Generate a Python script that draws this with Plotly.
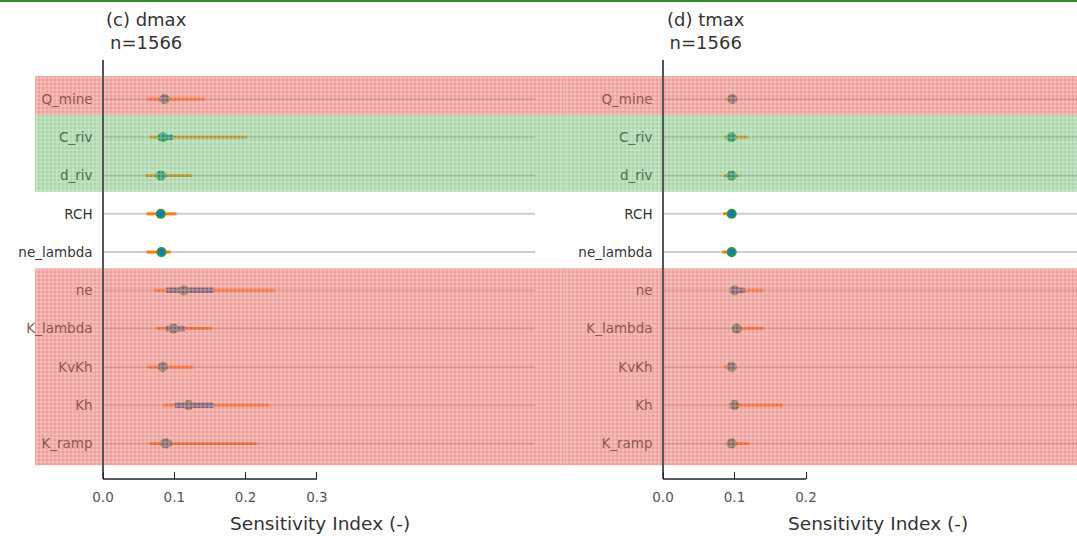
import plotly.graph_objects as go

# Parameters (rows, top to bottom)
params = ["Q_mine", "C_riv", "d_riv", "RCH", "ne_lambda",
          "ne", "K_lambda", "KvKh", "Kh", "K_ramp"]
# Row category: "pump" / "river" / "aquifer" rows are shaded, "recharge" rows are not
param_group = ["pump", "river", "river", "recharge", "recharge",
               "aquifer", "aquifer", "aquifer", "aquifer", "aquifer"]

# (c) dmax sensitivity indices: whisker low/high, quartiles, median
dmax_lo = [0.062, 0.065, 0.059, 0.061, 0.061, 0.072, 0.075, 0.062, 0.084, 0.065]
dmax_q1 = [0.080, 0.077, 0.075, 0.077, 0.078, 0.089, 0.088, 0.078, 0.101, 0.080]
dmax_med = [0.086, 0.084, 0.081, 0.081, 0.082, 0.113, 0.099, 0.084, 0.120, 0.088]
dmax_q3 = [0.093, 0.098, 0.088, 0.086, 0.087, 0.155, 0.115, 0.090, 0.155, 0.097]
dmax_hi = [0.143, 0.202, 0.124, 0.103, 0.095, 0.241, 0.152, 0.127, 0.233, 0.216]

# (d) tmax sensitivity indices
tmax_lo = [0.088, 0.086, 0.085, 0.084, 0.083, 0.096, 0.097, 0.085, 0.096, 0.091]
tmax_q1 = [0.093, 0.092, 0.093, 0.093, 0.093, 0.096, 0.099, 0.093, 0.097, 0.093]
tmax_med = [0.097, 0.096, 0.096, 0.096, 0.096, 0.100, 0.103, 0.096, 0.100, 0.096]
tmax_q3 = [0.099, 0.099, 0.099, 0.098, 0.098, 0.114, 0.108, 0.099, 0.104, 0.099]
tmax_hi = [0.102, 0.119, 0.106, 0.099, 0.099, 0.141, 0.141, 0.103, 0.168, 0.120]

panel_titles = ["(c) dmax<br>n=1566", "(d) tmax<br>n=1566"]
x_ticks = [[0.0, 0.1, 0.2, 0.3], [0.0, 0.1, 0.2]]
x_title = "Sensitivity Index (-)"

# ---------------------------------------------------------------- layout
W, H = 1077, 536
FONT = "DejaVu Sans"
Y_RANGE = [9.93, -1.02]
Y_DOMAIN = [1 - 479 / H, 1 - 60 / H]
X_DOMAINS = [[35 / W, 565 / W], [565 / W, 1.0]]
X_RANGES = [[-0.0954, 0.648], [-0.1371, 0.579]]
GRID_END = [0.606, 0.579]
AXIS_PX = [103, 663]
XTITLE_PX = [320, 878]

BAND_STYLE = {
    "pump": dict(bg="rgba(224,70,60,0.52)", fg="rgba(255,255,255,0.55)"),
    "river": dict(bg="rgba(62,160,62,0.44)", fg="rgba(255,255,255,0.55)"),
    "aquifer": dict(bg="rgba(224,70,60,0.52)", fg="rgba(255,255,255,0.55)"),
}
LABEL_COLOR = {"pump": "#8e5652", "river": "#4f6e4f",
               "recharge": "#333333", "aquifer": "#8e5652"}


def band_extents():
    """Contiguous runs of shaded groups -> (group, y_top, y_bottom)."""
    runs = []
    start = 0
    for i in range(1, len(params) + 1):
        if i == len(params) or param_group[i] != param_group[start]:
            runs.append((param_group[start], start, i - 1))
            start = i
    out = []
    for g, a, b in runs:
        if g not in BAND_STYLE:
            continue
        top = a - 0.58 if a > 0 else a - 0.6
        bot = b + 0.57 if b == len(params) - 1 else b + 0.42
        out.append((g, top, bot))
    return out


fig = go.Figure()

panels = [
    (dmax_lo, dmax_q1, dmax_med, dmax_q3, dmax_hi),
    (tmax_lo, tmax_q1, tmax_med, tmax_q3, tmax_hi),
]
rows = list(range(len(params)))

for k, (lo, q1, med, q3, hi) in enumerate(panels):
    xa = "x" if k == 0 else "x2"
    ya = "y" if k == 0 else "y2"

    # row gridlines, starting at zero
    gx, gy = [], []
    for r in rows:
        gx += [0, GRID_END[k], None]
        gy += [r, r, None]
    fig.add_trace(go.Scatter(x=gx, y=gy, mode="lines", xaxis=xa, yaxis=ya,
                             line=dict(color="rgba(110,110,110,0.35)", width=2),
                             hoverinfo="skip", showlegend=False))

    # whiskers
    wx, wy = [], []
    for r in rows:
        wx += [lo[r], hi[r], None]
        wy += [r, r, None]
    fig.add_trace(go.Scatter(x=wx, y=wy, mode="lines", xaxis=xa, yaxis=ya,
                             line=dict(color="#ff7f0e", width=3),
                             showlegend=False))

    # interquartile bars
    bx, by = [], []
    for r in rows:
        bx += [q1[r], q3[r], None]
        by += [r, r, None]
    fig.add_trace(go.Scatter(x=bx, y=by, mode="lines", xaxis=xa, yaxis=ya,
                             line=dict(color="#1f77b4", width=5.5),
                             showlegend=False))

    # medians
    fig.add_trace(go.Scatter(x=med, y=rows, mode="markers", xaxis=xa, yaxis=ya,
                             marker=dict(size=8.5, color="#1f77b4",
                                         line=dict(color="#2ca02c", width=1.6)),
                             showlegend=False))

    # shaded parameter groups, laid over the marks
    for g, top, bot in band_extents():
        x0, x1 = X_RANGES[k]
        st = BAND_STYLE[g]
        fig.add_trace(go.Scatter(
            x=[x0, x1, x1, x0, x0], y=[top, top, bot, bot, top],
            mode="lines", fill="toself", xaxis=xa, yaxis=ya,
            line=dict(width=0), fillcolor=st["bg"],
            fillpattern=dict(shape="+", size=4, solidity=0.32,
                             bgcolor=st["bg"], fgcolor=st["fg"],
                             fillmode="replace"),
            hoverinfo="skip", showlegend=False))

    # bounded x spine from 0 to the last tick
    fig.add_shape(type="line", xref=xa, yref=f"{ya} domain",
                  x0=x_ticks[k][0], x1=x_ticks[k][-1], y0=0, y1=0,
                  line=dict(color="#222222", width=1.5), layer="above")

    # panel title
    fig.add_annotation(text=panel_titles[k], xref="paper", yref="paper",
                       x=(AXIS_PX[k] + 43) / W, y=1 - 7 / H,
                       xanchor="center", yanchor="top", showarrow=False,
                       align="center",
                       font=dict(family=FONT, size=18, color="#333333"))

    # x-axis title, centred under the axes box
    fig.add_annotation(text=x_title, xref="paper", yref="paper",
                       x=XTITLE_PX[k] / W, y=1 - 523 / H,
                       xanchor="center", yanchor="middle", showarrow=False,
                       font=dict(family=FONT, size=18.5, color="#333333"))

tick_text = [f'<span style="color:{LABEL_COLOR[g]}">{p}</span>'
             for p, g in zip(params, param_group)]

common_x = dict(showgrid=False, zeroline=False, showline=False,
                ticks="inside", ticklen=7, tickwidth=1.3, tickcolor="#222222",
                tickfont=dict(family=FONT, size=13.5, color="#555555"),
                ticklabelstandoff=8)
common_y = dict(range=Y_RANGE, domain=Y_DOMAIN, anchor="free",
                showgrid=False, zeroline=False, showline=True,
                linecolor="#555555", linewidth=1.5, ticks="",
                tickmode="array", tickvals=rows, ticktext=tick_text,
                tickfont=dict(family=FONT, size=13.5, color="#333333"),
                ticklabelstandoff=7)

fig.update_layout(
    width=W, height=H, autosize=False,
    margin=dict(l=0, r=0, t=0, b=0),
    paper_bgcolor="white", plot_bgcolor="rgba(0,0,0,0)",
    font=dict(family=FONT),
    xaxis=dict(domain=X_DOMAINS[0], range=X_RANGES[0], anchor="y",
               tickvals=x_ticks[0],
               ticktext=[f"{v:.1f}" for v in x_ticks[0]], **common_x),
    xaxis2=dict(domain=X_DOMAINS[1], range=X_RANGES[1], anchor="y2",
                tickvals=x_ticks[1],
                ticktext=[f"{v:.1f}" for v in x_ticks[1]], **common_x),
    yaxis=dict(position=AXIS_PX[0] / W, **common_y),
    yaxis2=dict(position=AXIS_PX[1] / W, **common_y),
)

# thin green rule along the top edge
fig.add_shape(type="line", xref="paper", yref="paper",
              x0=0, x1=1, y0=1 - 1 / H, y1=1 - 1 / H,
              line=dict(color="#2e8b2e", width=2))

fig.write_html("out.html")
